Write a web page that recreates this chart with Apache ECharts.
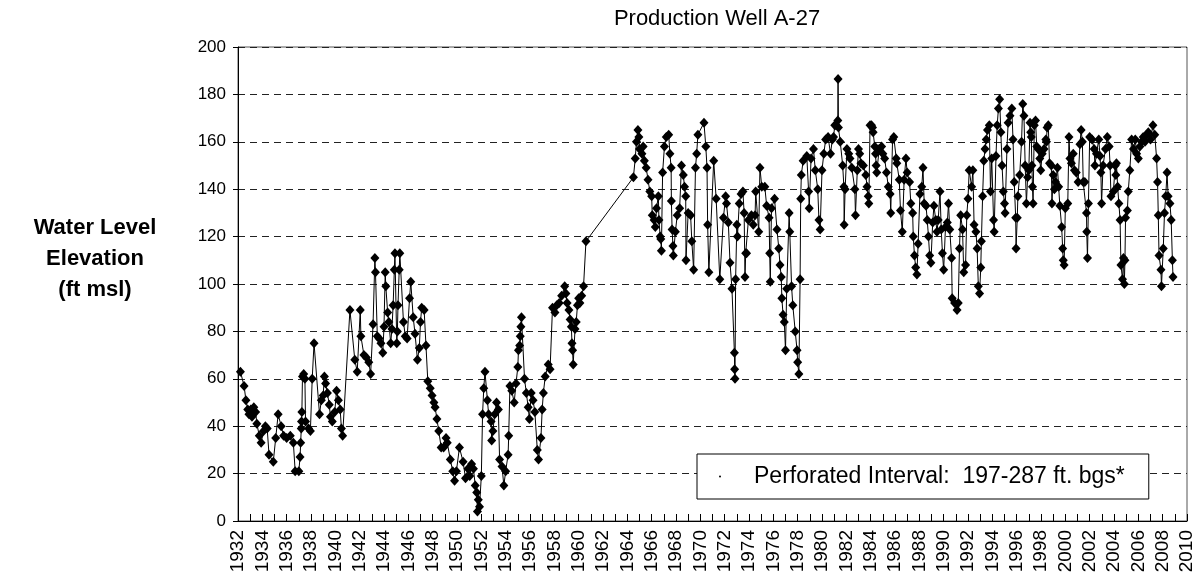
<!DOCTYPE html>
<html>
<head>
<meta charset="utf-8">
<script src="https://cdn.jsdelivr.net/npm/echarts@6/dist/echarts.min.js"></script>
<style>
html,body{margin:0;padding:0;background:#fff;}
#chart{width:1199px;height:586px;}
</style>
</head>
<body>
<div id="chart"></div>
<script>
// ---- Data: [decimal year, water level elevation (ft msl)] ----
const obs1932to1945 = [[1932.2,63],[1932.5,57],[1932.65,51],[1932.8,47],[1932.9,45],[1933.05,47],[1933.15,44],[1933.3,48],[1933.45,46],[1933.55,41],[1933.75,36],[1933.9,33],[1934.1,38],[1934.25,40],[1934.4,39],[1934.55,28],[1934.9,25],[1935.1,35],[1935.3,45],[1935.55,40],[1935.75,36],[1936.0,35],[1936.3,36],[1936.55,33],[1936.7,21],[1937.0,21],[1937.1,27],[1937.15,33],[1937.2,39],[1937.22,42],[1937.25,46],[1937.3,61],[1937.4,62],[1937.5,60],[1937.55,42],[1937.8,39],[1937.95,38],[1938.1,60],[1938.25,75],[1938.7,45],[1938.85,51],[1939.0,53],[1939.1,61],[1939.2,58],[1939.35,54],[1939.5,49],[1939.6,44],[1939.75,42],[1939.95,46],[1940.1,55],[1940.25,51],[1940.4,47],[1940.5,39],[1940.6,36],[1941.2,89],[1941.6,68],[1941.8,63],[1942.05,89],[1942.1,78],[1942.35,70],[1942.55,69],[1942.75,67],[1942.9,62],[1943.1,83],[1943.25,111],[1943.3,105],[1943.45,78],[1943.6,77],[1943.75,75],[1943.9,71],[1944.0,82],[1944.1,105],[1944.15,99],[1944.3,88],[1944.4,84],[1944.55,75],[1944.65,81],[1944.75,91],[1944.85,106],[1944.9,113]];
const obs1945to1958 = [[1945.05,75],[1945.1,80],[1945.15,91],[1945.25,106],[1945.3,113],[1945.6,84],[1945.75,78],[1945.9,77],[1946.1,94],[1946.2,101],[1946.4,86],[1946.55,79],[1946.75,68],[1946.9,73],[1947.0,84],[1947.1,90],[1947.3,89],[1947.45,74],[1947.6,59],[1947.8,56],[1947.95,53],[1948.1,50],[1948.2,48],[1948.35,43],[1948.5,38],[1948.7,31],[1948.9,31],[1949.1,35],[1949.2,33],[1949.45,26],[1949.65,21],[1949.8,17],[1949.95,21],[1950.2,31],[1950.5,25],[1950.7,18],[1950.9,22],[1951.05,19],[1951.2,24],[1951.35,22],[1951.5,15],[1951.62,12],[1951.68,4],[1951.75,9],[1951.85,6],[1952.0,19],[1952.1,45],[1952.2,56],[1952.3,63],[1952.5,51],[1952.6,45],[1952.8,42],[1952.85,34],[1952.95,38],[1953.1,45],[1953.25,50],[1953.4,47],[1953.5,26],[1953.7,23],[1953.85,15],[1954.0,21],[1954.2,28],[1954.25,36],[1954.35,57],[1954.5,55],[1954.7,50],[1954.85,58],[1955.0,65],[1955.05,72],[1955.15,74],[1955.2,78],[1955.25,82],[1955.3,86],[1955.55,60],[1955.7,54],[1955.85,48],[1955.95,43],[1956.1,54],[1956.25,51],[1956.4,46],[1956.6,30],[1956.7,26],[1956.9,35],[1957.0,47],[1957.1,54],[1957.25,61],[1957.5,66],[1957.65,64],[1957.85,90]];
const obs1958to1964 = [[1958.05,88],[1958.2,91],[1958.4,92],[1958.6,95],[1958.85,99],[1958.95,96],[1959.05,92],[1959.2,89],[1959.3,85],[1959.4,82],[1959.45,75],[1959.5,72],[1959.55,66],[1959.7,81],[1959.8,84],[1959.9,91],[1960.0,94],[1960.1,92],[1960.25,95],[1960.4,99],[1960.6,118]];
const obs1964to1971 = [[1964.5,145],[1964.65,153],[1964.75,160],[1964.87,165],[1964.95,162],[1965.0,157],[1965.2,155],[1965.3,158],[1965.4,152],[1965.55,149],[1965.7,144],[1965.85,139],[1966.0,137],[1966.05,129],[1966.2,127],[1966.3,124],[1966.4,132],[1966.55,137],[1966.6,127],[1966.7,120],[1966.75,119],[1966.8,114],[1966.9,147],[1967.05,158],[1967.2,162],[1967.4,163],[1967.5,155],[1967.6,149],[1967.62,135],[1967.68,123],[1967.75,116],[1967.78,112],[1967.95,122],[1968.1,129],[1968.3,132],[1968.45,150],[1968.6,146],[1968.7,141],[1968.8,137],[1968.82,110],[1969.0,130],[1969.2,129],[1969.3,118],[1969.45,106],[1969.6,149],[1969.7,155],[1969.8,163],[1970.3,168],[1970.45,158],[1970.55,149],[1970.6,125],[1970.7,105],[1971.1,152],[1971.3,136],[1971.6,102]];
const obs1971to1984 = [[1971.9,128],[1972.08,137],[1972.15,134],[1972.3,126],[1972.44,109],[1972.6,98],[1972.8,71],[1972.82,64],[1972.85,60],[1972.9,102],[1973.0,125],[1973.05,120],[1973.2,134],[1973.35,138],[1973.5,139],[1973.6,130],[1973.67,103],[1973.73,113],[1973.8,113],[1973.95,127],[1974.2,129],[1974.35,125],[1974.5,129],[1974.55,139],[1974.8,122],[1974.9,149],[1975.05,141],[1975.3,141],[1975.45,133],[1975.65,128],[1975.7,113],[1975.75,101],[1975.85,132],[1976.1,136],[1976.3,123],[1976.45,115],[1976.55,108],[1976.65,103],[1976.7,94],[1976.8,87],[1976.9,84],[1977.0,72],[1977.1,98],[1977.3,130],[1977.35,122],[1977.5,99],[1977.6,91],[1977.8,80],[1977.95,72],[1978.0,67],[1978.1,62],[1978.2,102],[1978.25,136],[1978.3,146],[1978.45,152],[1978.75,154],[1978.9,139],[1978.95,132],[1979.1,153],[1979.3,157],[1979.45,148],[1979.65,140],[1979.75,127],[1979.85,123],[1980.0,148],[1980.15,155],[1980.3,161],[1980.5,162],[1980.7,155],[1980.85,161],[1980.95,162],[1981.05,167],[1981.15,167],[1981.3,169],[1981.32,186.5],[1981.35,166],[1981.5,160],[1981.7,150],[1981.8,141],[1981.82,125],[1981.9,140],[1982.05,157],[1982.2,155],[1982.3,153],[1982.45,149],[1982.7,140],[1982.75,129],[1982.9,148],[1983.0,157],[1983.1,155],[1983.2,151],[1983.4,150],[1983.6,146],[1983.7,141],[1983.8,137],[1983.85,134],[1983.95,167]];
const obs1984to1997 = [[1984.07,167],[1984.15,166],[1984.2,164],[1984.34,158],[1984.4,155],[1984.45,150],[1984.5,147],[1984.7,157],[1984.9,158],[1985.0,155],[1985.15,153],[1985.3,147],[1985.45,141],[1985.6,138],[1985.65,130],[1985.8,161],[1985.9,162],[1986.1,153],[1986.15,151],[1986.35,144],[1986.45,131],[1986.6,122],[1986.75,144],[1986.9,153],[1987.0,147],[1987.2,143],[1987.3,134],[1987.45,130],[1987.5,120],[1987.6,112],[1987.7,107],[1987.8,104],[1987.9,117],[1988.05,138],[1988.2,141],[1988.3,149],[1988.4,134],[1988.55,133],[1988.65,127],[1988.75,120],[1988.85,112],[1988.95,109],[1989.1,126],[1989.2,133],[1989.35,127],[1989.45,122],[1989.55,127],[1989.7,139],[1989.8,123],[1989.9,113],[1990.0,106],[1990.15,124],[1990.3,126],[1990.4,134],[1990.5,123],[1990.65,111],[1990.7,94],[1990.9,92],[1991.1,89],[1991.2,92],[1991.3,115],[1991.4,129],[1991.55,123],[1991.65,105],[1991.8,108],[1991.9,129],[1992.0,136],[1992.1,148],[1992.3,141],[1992.4,148],[1992.5,125],[1992.65,122],[1992.75,115],[1992.85,99],[1992.95,96],[1993.05,107],[1993.1,118],[1993.2,137],[1993.3,152],[1993.4,157],[1993.5,161],[1993.6,165],[1993.75,167],[1993.85,139],[1993.95,153],[1994.1,127],[1994.15,122],[1994.3,154],[1994.4,167],[1994.5,174],[1994.6,178],[1994.7,164],[1994.8,150],[1994.9,139],[1995.0,134],[1995.05,130],[1995.2,157],[1995.3,168],[1995.45,171],[1995.6,174],[1995.7,161],[1995.8,143],[1995.92,128],[1995.95,115],[1996.05,128],[1996.1,137],[1996.25,146],[1996.4,160],[1996.5,176],[1996.6,171],[1996.7,150],[1996.8,134],[1996.9,145]];
const obs1997to2009 = [[1997.0,148],[1997.1,168],[1997.15,164],[1997.2,162],[1997.25,150],[1997.3,141],[1997.35,134],[1997.45,167],[1997.55,169],[1997.65,158],[1997.76,157],[1997.9,153],[1997.98,148],[1998.1,155],[1998.25,157],[1998.4,161],[1998.45,160],[1998.5,166],[1998.6,167],[1998.7,151],[1998.85,150],[1998.9,134],[1999.0,146],[1999.1,140],[1999.2,143],[1999.35,149],[1999.45,141],[1999.55,133],[1999.7,124],[1999.78,115],[1999.83,110],[1999.9,108],[2000.0,132],[2000.2,134],[2000.3,162],[2000.38,153],[2000.5,151],[2000.65,155],[2000.75,148],[2000.9,147],[2001.05,143],[2001.2,159],[2001.3,165],[2001.4,160],[2001.47,143],[2001.6,143],[2001.74,130],[2001.76,122],[2001.82,111],[2001.9,134],[2002.0,162],[2002.2,161],[2002.37,157],[2002.43,150],[2002.56,155],[2002.75,161],[2002.85,154],[2002.92,147],[2002.98,134],[2003.1,150],[2003.3,157],[2003.45,162],[2003.6,158],[2003.68,150],[2003.75,137],[2003.95,139],[2004.1,150],[2004.15,146],[2004.2,151],[2004.3,141],[2004.4,134],[2004.5,127],[2004.57,108],[2004.7,102],[2004.78,111],[2004.85,100],[2004.9,110],[2004.95,128],[2005.1,131],[2005.17,139],[2005.3,148],[2005.45,161],[2005.6,157],[2005.75,161],[2005.86,155],[2006.0,153],[2006.13,158],[2006.27,160],[2006.4,162],[2006.55,160],[2006.68,163],[2006.82,164],[2007.0,161],[2007.2,167],[2007.35,163],[2007.5,153],[2007.58,143],[2007.64,129],[2007.7,112],[2007.86,106],[2007.9,99],[2008.05,115],[2008.15,130],[2008.25,137],[2008.36,147],[2008.45,137],[2008.6,134],[2008.7,127],[2008.8,110],[2008.85,103]];

const chartTitle = 'Production Well A-27';
const yAxisTitle = 'Water Level\nElevation\n(ft msl)';
const legendLabel = 'Perforated Interval:  197-287 ft. bgs*';
const yearMin = 1932, yearMax = 2010, yearStep = 2;
const levelMin = 0, levelMax = 200, levelStep = 20;

const waterLevels = [].concat(obs1932to1945, obs1945to1958, obs1958to1964, obs1964to1971, obs1971to1984, obs1984to1997, obs1997to2009)
  .sort((a, b) => a[0] - b[0]);

const FONT = 'Arial, "Liberation Sans", Helvetica, sans-serif';
const chart = echarts.init(document.getElementById('chart'), null, {renderer: 'canvas'});
chart.setOption({
  animation: false,
  backgroundColor: '#fff',
  title: [
    {
      text: chartTitle,
      left: 712, top: 3, textAlign: 'center',
      textStyle: {fontFamily: FONT, fontSize: 22, fontWeight: 'normal', color: '#000'}
    },
    {
      text: yAxisTitle,
      left: 90, top: 207, textAlign: 'center',
      textStyle: {fontFamily: FONT, fontSize: 22, fontWeight: 'bold', color: '#000', lineHeight: 31}
    }
  ],
  legend: {
    data: [{name: legendLabel, icon: 'circle'}],
    selectedMode: false,
    left: 697, top: 454,
    itemWidth: 2, itemHeight: 2,
    padding: [11, 24, 11, 22],
    borderColor: '#000', borderWidth: 1, backgroundColor: '#fff',
    textStyle: {fontFamily: FONT, fontSize: 23, lineHeight: 22, color: '#000', padding: [0, 0, 0, 28]}
  },
  grid: {
    left: 238, right: 12, top: 47, bottom: 65,
    show: true, borderColor: '#555', borderWidth: 1, backgroundColor: '#fff'
  },
  xAxis: {
    type: 'value', min: yearMin, max: yearMax, interval: yearStep,
    axisLine: {show: true, onZero: false, lineStyle: {color: '#000', width: 1}},
    axisTick: {show: true, inside: true, length: 7, lineStyle: {color: '#000'}},
    minorTick: {show: true, splitNumber: 2, length: 7, lineStyle: {color: '#000'}},
    splitLine: {show: false},
    axisLabel: {rotate: 90, margin: 9, fontFamily: FONT, fontSize: 19, color: '#000',
      formatter: v => String(v)}
  },
  yAxis: {
    type: 'value', min: levelMin, max: levelMax, interval: levelStep,
    axisLine: {show: true, lineStyle: {color: '#000', width: 1}},
    axisTick: {show: true, inside: false, length: 5, lineStyle: {color: '#000'}},
    splitLine: {show: true, lineStyle: {color: '#222', width: 1, type: [7, 5]}},
    axisLabel: {margin: 12, fontFamily: FONT, fontSize: 17, color: '#000'}
  },
  series: [
    {
      name: 'Water Level',
      type: 'line',
      data: waterLevels,
      showAllSymbol: true,
      symbol: 'diamond', symbolSize: [9, 10],
      itemStyle: {color: '#000'},
      lineStyle: {color: '#000', width: 1},
      emphasis: {disabled: true},
      z: 3
    },
    {
      name: legendLabel,
      type: 'line',
      data: [],
      symbol: 'circle',
      itemStyle: {color: '#000'},
      lineStyle: {color: '#000', width: 0}
    }
  ]
});
</script>
</body>
</html>
